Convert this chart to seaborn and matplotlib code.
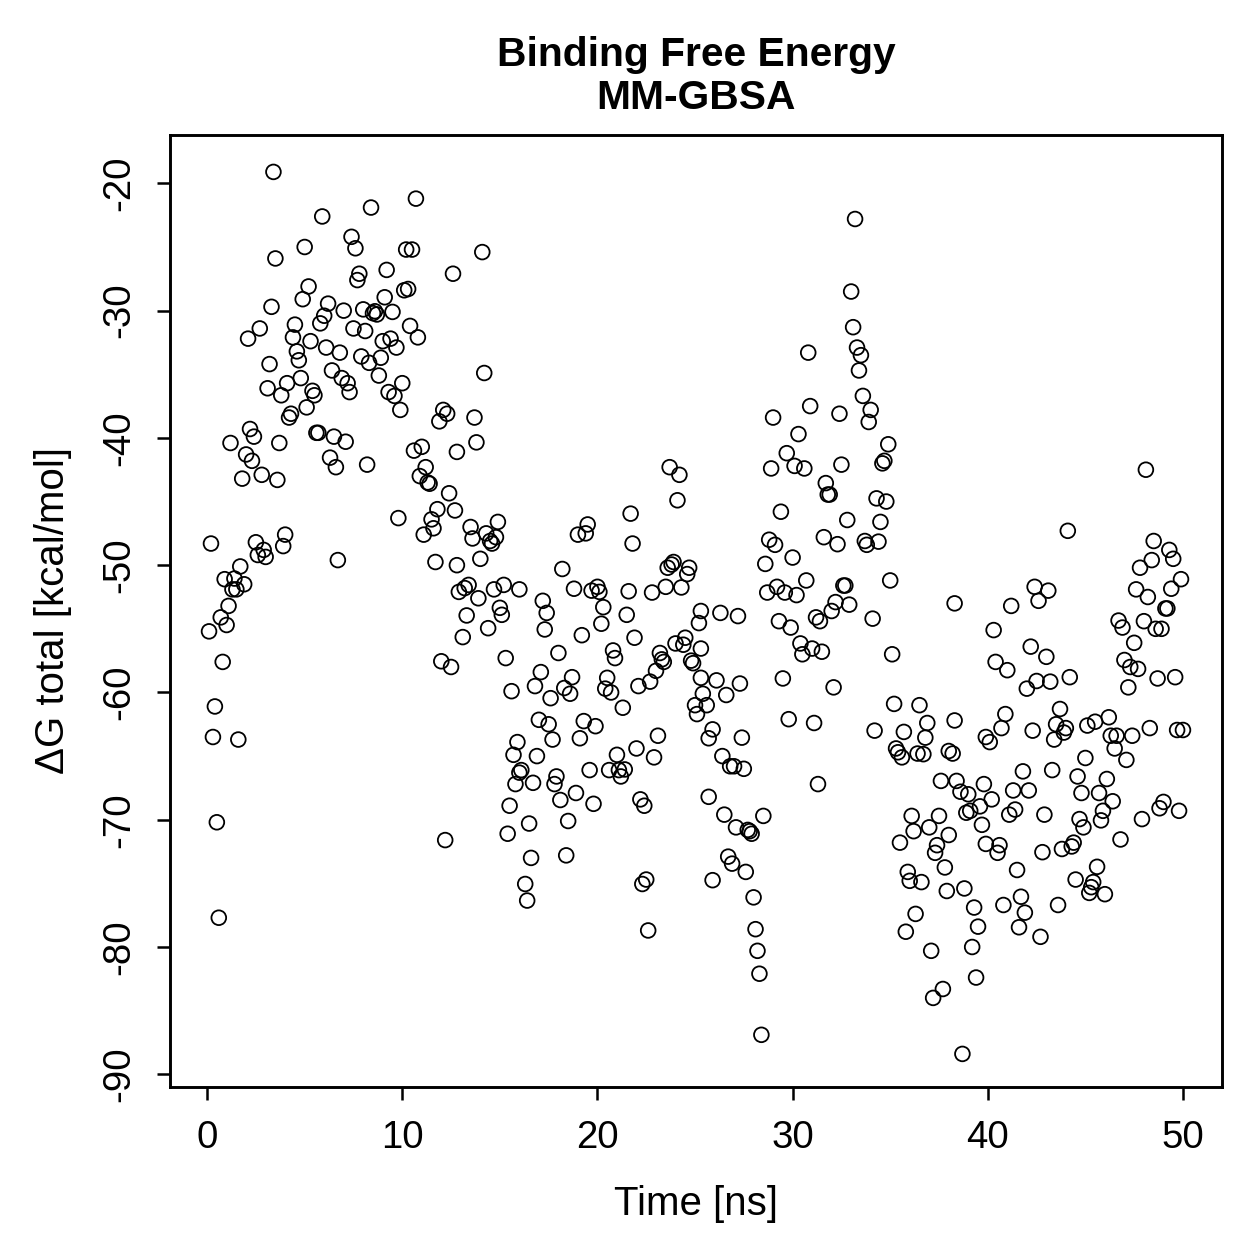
import matplotlib
matplotlib.use("Agg")
import matplotlib.pyplot as plt
import seaborn as sns
import pandas as pd

# MM-GBSA binding free energy (time in ns, dG in kcal/mol)
time_a = [0.1, 0.2, 0.3, 0.4, 0.5, 0.6, 0.7, 0.8, 0.9, 1.0,
          1.1, 1.2, 1.3, 1.4, 1.5, 1.6, 1.7, 1.8, 1.9, 2.0,
          2.1, 2.2, 2.3, 2.4, 2.5, 2.6, 2.7, 2.8, 2.9, 3.0,
          3.1, 3.2, 3.3, 3.4, 3.5, 3.6, 3.7, 3.8, 3.9, 4.0,
          4.1, 4.2, 4.3, 4.4, 4.5, 4.6, 4.7, 4.8, 4.9, 5.0,
          5.1, 5.2, 5.3, 5.4, 5.5, 5.6, 5.7, 5.8, 5.9, 6.0,
          6.1, 6.2, 6.3, 6.4, 6.5, 6.6, 6.7, 6.8, 6.9, 7.0,
          7.1, 7.2, 7.3, 7.4, 7.5, 7.6, 7.7, 7.8, 7.9, 8.0,
          8.1, 8.2, 8.3, 8.4, 8.5, 8.6, 8.7, 8.8, 8.9, 9.0,
          9.1, 9.2, 9.3, 9.4, 9.5, 9.6, 9.7, 9.8, 9.9, 10.0,
          10.1, 10.2, 10.3, 10.4, 10.5, 10.6, 10.7, 10.8, 10.9, 11.0,
          11.1, 11.2, 11.3, 11.4, 11.5, 11.6, 11.7, 11.8, 11.9, 12.0,
          12.1, 12.2, 12.3, 12.4, 12.5, 12.6, 12.7, 12.8, 12.8, 12.9]
dg_a = [-55.2, -48.3, -63.5, -61.1, -70.2, -77.7, -54.1, -57.6, -51.1, -54.7,
        -53.2, -40.4, -51.9, -51.05, -51.9, -63.7, -50.1, -43.2, -51.5, -41.3,
        -32.2, -39.3, -41.8, -39.9, -48.2, -49.2, -31.4, -42.9, -48.8, -49.35,
        -36.1, -34.2, -29.7, -19.1, -25.9, -43.3, -40.4, -36.65, -48.5, -47.6,
        -35.7, -38.4, -38.1, -32.1, -31.1, -33.2, -33.9, -35.3, -29.1, -25.0,
        -37.6, -28.1, -32.4, -36.3, -36.65, -39.6, -39.6, -31.0, -22.6, -30.4,
        -32.9, -29.45, -41.55, -34.7, -39.9, -42.3, -49.6, -33.3, -35.3, -30.0,
        -40.3, -35.7, -36.4, -24.2, -31.4, -25.1, -27.6, -27.1, -33.6, -29.9,
        -31.6, -42.1, -34.1, -21.9, -30.2, -30.05, -30.3, -35.1, -33.7, -32.4,
        -28.95, -26.8, -36.4, -32.2, -30.1, -36.7, -32.9, -46.3, -37.8, -35.7,
        -28.4, -25.2, -28.3, -31.2, -25.2, -41.0, -21.2, -32.1, -43.0, -40.7,
        -47.6, -42.3, -43.5, -43.6, -46.4, -47.1, -49.75, -45.6, -38.7, -57.55,
        -37.8, -71.6, -38.1, -44.35, -58.0, -27.1, -45.7, -41.1, -50.0, -52.1]

time_b = [13.1, 13.2, 13.3, 13.4, 13.5, 13.6, 13.7, 13.8, 13.9, 14.0,
          14.1, 14.2, 14.3, 14.4, 14.5, 14.6, 14.7, 14.8, 14.9, 15.0,
          15.1, 15.2, 15.3, 15.4, 15.5, 15.6, 15.7, 15.8, 15.9, 16.0,
          16.0, 16.1, 16.3, 16.4, 16.5, 16.6, 16.7, 16.8, 16.9, 17.0,
          17.1, 17.2, 17.3, 17.4, 17.5, 17.6, 17.7, 17.8, 17.9, 18.0,
          18.1, 18.2, 18.3, 18.4, 18.5, 18.6, 18.7, 18.8, 18.9, 19.0,
          19.1, 19.2, 19.3, 19.4, 19.5, 19.6, 19.7, 19.8, 19.9, 20.0,
          20.1, 20.2, 20.3, 20.4, 20.5, 20.6, 20.7, 20.8, 20.9, 21.0,
          21.1, 21.2, 21.3, 21.4, 21.5, 21.6, 21.7, 21.8, 21.9, 22.0,
          22.1, 22.2, 22.3, 22.4, 22.5, 22.6, 22.7, 22.8, 22.9, 23.0,
          23.1, 23.2, 23.3, 23.4, 23.5, 23.6, 23.7, 23.8, 23.9, 24.0,
          24.1, 24.2, 24.3, 24.4, 24.5, 24.6, 24.7, 24.8, 24.9, 25.0]
dg_b = [-55.65, -51.8, -53.95, -51.55, -47.0, -47.9, -38.4, -40.35, -52.6, -49.5,
        -25.4, -34.9, -47.5, -54.95, -48.1, -48.3, -51.9, -47.8, -46.6, -53.35,
        -53.9, -51.55, -57.3, -71.1, -68.9, -59.9, -64.9, -67.2, -63.9, -51.9,
        -66.3, -66.1, -75.05, -76.35, -70.3, -73.0, -67.1, -59.5, -65.0, -62.15,
        -58.4, -52.8, -55.05, -53.75, -62.5, -60.45, -63.7, -67.2, -66.6, -56.9,
        -68.45, -50.3, -59.65, -72.8, -70.1, -60.1, -58.8, -51.85, -67.9, -47.6,
        -63.6, -55.5, -62.25, -47.5, -46.8, -66.1, -52.0, -68.75, -62.65, -51.7,
        -52.1, -54.6, -53.3, -59.7, -58.85, -66.1, -60.0, -56.7, -57.3, -64.9,
        -66.1, -66.6, -61.2, -66.05, -53.9, -52.05, -45.95, -48.3, -55.7, -64.4,
        -59.5, -68.4, -75.05, -68.9, -74.7, -78.7, -59.15, -52.15, -65.1, -58.3,
        -63.4, -56.9, -57.4, -57.6, -51.7, -50.2, -42.3, -49.95, -49.75, -56.15,
        -44.9, -42.9, -51.75, -56.25, -55.7, -50.7, -50.2, -57.5, -57.7, -61.0]

time_c = [25.1, 25.2, 25.3, 25.3, 25.3, 25.4, 25.6, 25.7, 25.7, 25.9,
          25.9, 26.1, 26.3, 26.4, 26.5, 26.6, 26.7, 26.8, 26.9, 27.0,
          27.1, 27.2, 27.3, 27.4, 27.5, 27.6, 27.7, 27.8, 27.9, 28.0,
          28.1, 28.2, 28.3, 28.4, 28.5, 28.6, 28.7, 28.8, 28.9, 29.0,
          29.1, 29.2, 29.3, 29.4, 29.5, 29.6, 29.7, 29.8, 29.9, 30.0,
          30.1, 30.2, 30.3, 30.4, 30.5, 30.6, 30.7, 30.8, 30.9, 31.0,
          31.1, 31.2, 31.3, 31.4, 31.5, 31.6, 31.7, 31.8, 31.9, 32.0,
          32.1, 32.2, 32.3, 32.4, 32.5, 32.6, 32.7, 32.8, 32.9, 33.0,
          33.1, 33.2, 33.3, 33.4, 33.5, 33.6, 33.7, 33.8, 33.9, 34.0,
          34.1, 34.2, 34.3, 34.4, 34.5, 34.6, 34.7, 34.8, 34.9, 35.0,
          35.1, 35.2, 35.3, 35.4, 35.5, 35.6, 35.7, 35.8, 35.9, 36.0,
          36.1, 36.2, 36.3, 36.4, 36.5, 36.6, 36.7, 36.8, 36.9, 37.0,
          37.1, 37.2, 37.3, 37.4, 37.5]
dg_c = [-61.7, -54.55, -53.6, -56.55, -58.85, -60.1, -61.0, -68.2, -63.6, -62.9,
        -74.75, -59.05, -53.75, -65.0, -69.6, -60.2, -72.9, -65.8, -73.45, -65.8,
        -70.6, -54.0, -59.3, -63.55, -66.0, -74.1, -70.8, -70.9, -71.1, -76.1,
        -78.6, -80.3, -82.1, -86.9, -69.7, -49.9, -52.15, -48.0, -42.4, -38.4,
        -48.4, -51.7, -54.4, -45.8, -58.9, -52.15, -41.2, -62.1, -54.9, -49.4,
        -42.2, -52.35, -39.7, -56.15, -57.0, -42.4, -51.2, -33.3, -37.5, -56.55,
        -62.4, -54.1, -67.2, -54.4, -56.8, -47.8, -43.55, -44.45, -44.45, -53.6,
        -59.6, -52.9, -48.35, -38.1, -42.1, -51.6, -51.6, -46.45, -53.1, -28.5,
        -31.3, -22.8, -32.9, -34.7, -33.5, -36.7, -48.1, -48.4, -38.75, -37.8,
        -54.2, -63.0, -44.75, -48.15, -46.6, -42.0, -41.8, -45.0, -40.5, -51.2,
        -57.0, -60.9, -64.4, -64.7, -71.8, -65.1, -63.1, -78.8, -74.1, -74.8,
        -69.7, -70.9, -77.4, -64.8, -61.0, -74.9, -64.85, -63.55, -62.4, -70.6,
        -80.3, -84.0, -72.6, -72.0, -69.7]

time_d = [37.6, 37.7, 37.8, 37.9, 38.0, 38.0, 38.2, 38.3, 38.3, 38.4,
          38.6, 38.7, 38.8, 38.9, 39.0, 39.1, 39.2, 39.3, 39.4, 39.5,
          39.6, 39.7, 39.8, 39.9, 39.9, 40.1, 40.2, 40.3, 40.4, 40.5,
          40.6, 40.7, 40.8, 40.9, 41.0, 41.1, 41.2, 41.3, 41.4, 41.5,
          41.6, 41.7, 41.8, 41.9, 42.0, 42.1, 42.2, 42.3, 42.4, 42.5,
          42.6, 42.7, 42.8, 42.9, 43.0, 43.1, 43.2, 43.3, 43.4, 43.5,
          43.6, 43.7, 43.8, 43.9, 44.0, 44.1, 44.2, 44.3, 44.4, 44.5,
          44.6, 44.7, 44.8, 44.9, 45.0, 45.1, 45.2, 45.3, 45.4, 45.5,
          45.6, 45.7, 45.8, 45.9, 46.0, 46.1, 46.2, 46.3, 46.4, 46.5,
          46.6, 46.7, 46.8, 46.9, 47.0, 47.1, 47.2, 47.3, 47.4, 47.5,
          47.6, 47.7, 47.8, 47.9, 48.0, 48.1, 48.2, 48.3, 48.4, 48.5,
          48.6, 48.7, 48.8, 48.9, 49.0, 49.1, 49.2, 49.3, 49.4, 49.5,
          49.6, 49.7, 49.8, 49.9, 50.0]
dg_d = [-66.95, -83.3, -73.75, -75.6, -71.2, -64.6, -64.8, -53.0, -62.2, -66.95,
        -67.8, -88.4, -75.4, -69.45, -68.0, -69.3, -80.0, -76.9, -82.4, -78.4,
        -68.95, -70.4, -67.2, -71.9, -63.5, -63.9, -68.4, -55.1, -57.6, -72.6,
        -72.0, -62.8, -76.7, -61.7, -58.25, -69.6, -53.2, -67.7, -69.2, -73.95,
        -78.45, -76.05, -66.2, -77.3, -59.7, -67.7, -56.4, -63.0, -51.7, -59.1,
        -52.8, -79.2, -72.55, -69.6, -57.2, -52.0, -59.15, -66.1, -63.7, -62.5,
        -76.7, -61.3, -72.3, -63.15, -62.8, -47.3, -58.8, -72.1, -71.8, -74.7,
        -66.6, -69.95, -67.9, -70.6, -65.15, -62.6, -75.75, -75.3, -74.9, -62.3,
        -73.7, -67.9, -70.05, -69.3, -75.85, -66.8, -61.95, -63.4, -68.55, -64.4,
        -63.4, -54.35, -71.55, -54.9, -57.45, -65.3, -59.6, -58.0, -63.4, -56.1,
        -51.9, -58.15, -50.2, -69.95, -54.4, -42.5, -52.5, -62.8, -49.6, -48.1,
        -55.0, -58.9, -69.1, -55.0, -68.6, -53.4, -53.4, -48.8, -51.85, -49.5,
        -58.8, -62.95, -69.3, -51.1, -62.95]

x_ticks = [0, 10, 20, 30, 40, 50]
y_ticks = [-20, -30, -40, -50, -60, -70, -80, -90]

df = pd.DataFrame({
    "time": time_a + time_b + time_c + time_d,
    "dg": dg_a + dg_b + dg_c + dg_d,
})

sns.set_style("white")
plt.rcParams["font.family"] = ["Liberation Sans", "DejaVu Sans"]
plt.rcParams["axes.unicode_minus"] = False
# R base graphics look: everything pure black
plt.rcParams["text.color"] = "black"
plt.rcParams["axes.labelcolor"] = "black"
plt.rcParams["xtick.color"] = "black"
plt.rcParams["ytick.color"] = "black"

W = 1259
fig = plt.figure(figsize=(W / 200, W / 200), dpi=200)
ax = fig.add_axes([170 / W, 1 - 1087 / W, (1222 - 170) / W, (1087 - 135) / W])

sns.scatterplot(data=df, x="time", y="dg", ax=ax, marker="o", s=28,
                facecolor="none", edgecolor="black", linewidth=0.65)

ax.set_xlim(-1.9, 52.0)
ax.set_ylim(-91.0, -16.2)
ax.set_xticks(x_ticks)
ax.set_yticks(y_ticks)
ax.set_xticklabels([str(v) for v in x_ticks])
ax.set_yticklabels([str(v) for v in y_ticks], rotation=90, va="center")

for sp in ax.spines.values():
    sp.set_visible(True)
    sp.set_color("black")
    sp.set_linewidth(1.05)

ax.tick_params(direction="out", length=4.7, width=0.9, colors="black",
               labelsize=13.8, pad=7, bottom=True, left=True, top=False, right=False)

ax.set_xlabel("Time [ns]", fontsize=14.5, color="black")
ax.set_ylabel("ΔG total [kcal/mol]", fontsize=14.5, color="black")
ax.xaxis.set_label_coords(0.5, -0.103)
ax.yaxis.set_label_coords(-0.093, 0.5)

ax.set_title("Binding Free Energy\nMM-GBSA", fontsize=14.7, fontweight="bold",
             color="black", pad=9.5, linespacing=1.15)

fig.savefig("out.png", dpi=200, facecolor="white")
